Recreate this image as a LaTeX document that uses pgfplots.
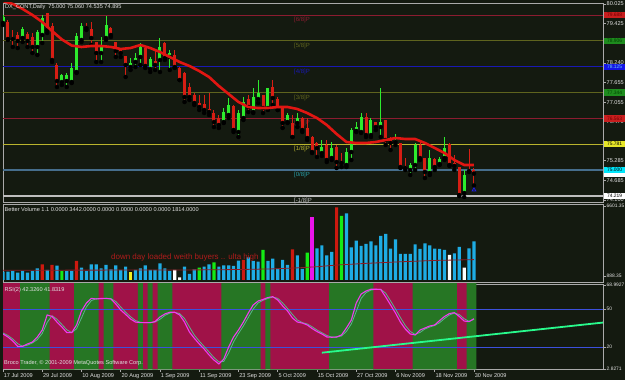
\documentclass[border=0pt]{standalone}
\usepackage{pgfplots}
\usepackage{pgfplotstable}
\pgfplotsset{compat=1.18}
\usepackage{fontspec}
\setmainfont{Liberation Sans}
\definecolor{bg}{RGB}{20,26,16}
\definecolor{frame}{RGB}{170,170,170}
\definecolor{upc}{RGB}{45,235,45}
\definecolor{dnc}{RGB}{215,30,20}
\definecolor{maline}{RGB}{225,22,18}
\definecolor{mmred}{RGB}{140,28,48}
\definecolor{mmolive}{RGB}{95,100,30}
\definecolor{mmblue}{RGB}{25,25,180}
\definecolor{mmyellow}{RGB}{185,180,45}
\definecolor{mmteal}{RGB}{70,110,140}
\definecolor{mmtealtxt}{RGB}{40,160,170}
\definecolor{mmgray}{RGB}{190,190,190}
\definecolor{volcyan}{RGB}{30,172,228}
\definecolor{volred}{RGB}{205,25,15}
\definecolor{volgreen}{RGB}{20,235,20}
\definecolor{volmag}{RGB}{235,20,235}
\definecolor{volyellow}{RGB}{240,240,30}
\definecolor{volma}{RGB}{140,28,38}
\definecolor{rsired}{RGB}{160,18,72}
\definecolor{rsigreen}{RGB}{38,118,36}
\definecolor{rsiline}{RGB}{240,60,240}
\definecolor{rsisig}{RGB}{90,180,140}
\definecolor{rsilvl}{RGB}{60,80,220}
\definecolor{trend}{RGB}{40,250,140}
\definecolor{txtc}{RGB}{225,225,225}
\definecolor{notered}{RGB}{175,28,28}
\definecolor{arrowblue}{RGB}{30,30,230}
\definecolor{boxred}{RGB}{200,30,30}
\definecolor{boxgreen}{RGB}{30,140,30}
\definecolor{boxblue}{RGB}{20,20,230}
\definecolor{boxyellow}{RGB}{230,230,40}
\definecolor{boxcyan}{RGB}{0,230,250}
\newcommand{\tf}{\fontsize{5.6}{6.5}\selectfont}
\newcommand{\smf}{\fontsize{4.9}{6}\selectfont}

\pgfplotstableread{
i O H L C
0 79.446 79.688 79.386 79.627
4 78.993 79.325 78.872 79.265
7 78.721 79.234 78.479 79.174
8 79.083 79.688 78.842 79.597
12 77.663 77.905 77.572 77.875
13 77.693 77.935 77.512 77.875
14 77.663 78.237 77.633 78.086
15 77.965 79.144 77.935 79.053
16 78.932 79.446 78.872 79.355
20 78.539 79.023 78.267 78.781
21 78.993 79.658 78.932 79.386
26 78.116 78.388 78.026 78.237
27 78.267 78.539 78.116 78.388
28 78.419 78.842 78.177 78.721
30 78.056 78.419 77.965 78.358
32 78.328 78.993 77.965 78.721
34 78.419 78.630 78.026 78.539
45 76.454 76.877 76.424 76.756
46 76.666 77.179 76.575 76.968
48 76.152 76.817 76.001 76.726
49 76.575 77.210 76.515 77.059
51 76.756 77.482 76.726 77.210
52 77.149 77.723 77.028 77.331
54 76.877 77.482 76.817 77.482
58 76.454 76.726 76.424 76.666
60 76.424 76.726 76.303 76.575
65 75.517 75.910 75.427 75.699
67 75.366 75.850 75.306 75.668
70 75.155 75.668 75.094 75.548
71 75.548 76.273 75.306 76.212
72 76.182 76.454 76.152 76.303
73 76.152 76.726 76.122 76.605
75 76.061 76.575 76.001 76.515
77 76.303 77.482 76.001 76.454
80 75.850 76.092 75.759 75.910
83 75.004 75.215 74.853 75.155
84 75.155 75.820 75.004 75.759
87 74.913 75.608 74.853 75.366
89 75.185 75.397 75.155 75.336
90 75.366 76.001 75.306 75.668
94 74.309 75.004 74.188 74.853
}\uptab

\pgfplotstableread{
i O H L C
1 79.476 79.537 78.932 78.962
2 79.023 79.234 78.721 78.962
3 79.083 79.174 78.690 78.902
5 79.114 79.174 78.721 78.902
6 79.023 79.144 78.539 78.721
9 79.748 79.748 79.144 79.234
10 79.355 79.446 78.267 78.328
11 78.177 78.237 77.512 77.693
17 79.355 79.446 79.234 79.295
18 79.265 79.476 78.781 78.993
19 78.872 78.872 78.267 78.539
22 79.295 79.325 79.023 79.083
23 78.872 78.872 78.419 78.600
24 78.630 78.690 78.419 78.539
25 78.449 78.449 77.814 78.177
29 78.690 78.721 78.086 78.147
31 78.298 78.630 78.026 78.177
33 78.842 78.872 78.328 78.388
35 78.479 78.630 78.086 78.116
36 78.086 78.116 77.723 77.723
37 77.935 77.965 77.059 77.210
38 77.512 77.633 77.119 77.210
39 77.270 77.331 76.968 77.028
40 77.028 77.270 76.817 76.907
41 76.998 77.270 76.726 76.817
42 76.847 77.331 76.666 76.756
43 76.726 76.817 76.303 76.454
44 76.575 76.666 76.273 76.364
47 76.938 76.968 76.152 76.212
50 77.149 77.270 76.756 76.907
53 77.270 77.270 76.726 76.877
55 77.512 77.723 76.968 77.179
56 77.149 77.210 76.817 76.817
57 76.877 76.907 76.273 76.424
59 76.424 76.666 76.001 76.001
61 76.575 76.605 76.152 76.212
62 76.273 76.575 75.910 75.971
63 76.001 76.031 75.517 75.548
64 75.820 75.850 75.397 75.668
66 75.759 75.910 75.245 75.306
68 75.699 75.759 75.064 75.245
69 75.245 75.517 75.094 75.215
74 76.605 76.726 76.001 76.061
76 76.454 76.454 76.212 76.303
78 76.515 76.515 75.759 75.910
79 75.971 76.001 75.608 75.820
81 75.820 75.820 75.064 75.094
82 75.125 75.366 75.004 75.064
85 75.759 75.850 75.306 75.366
86 75.366 75.366 74.762 74.943
88 75.336 75.366 75.004 75.094
91 75.789 75.820 75.125 75.155
92 75.215 75.457 75.004 75.125
93 75.094 75.094 74.218 74.248
95 75.004 75.638 74.943 74.973
96 75.000 75.060 74.535 74.895
}\dntab

\pgfplotstableread{
i v
0 80.111
2 80.020
4 79.869
6 79.688
8 79.476
10 79.204
12 78.948
14 78.766
16 78.721
18 78.751
20 78.751
22 78.721
24 78.660
26 78.690
28 78.781
30 78.690
32 78.570
34 78.419
36 78.267
38 78.147
40 77.995
42 77.814
44 77.542
46 77.300
48 77.059
50 76.907
52 76.877
54 76.877
56 76.907
58 76.907
60 76.847
62 76.726
64 76.575
66 76.364
68 76.092
70 75.850
72 75.820
74 75.820
76 75.850
78 75.910
80 75.971
82 75.940
84 75.940
86 75.820
88 75.668
90 75.517
92 75.306
94 75.155
96 75.155
}\matab

\pgfplotstableread{
i r s
0 30.3 31.0
1 27.9 29.1
2 24.7 26.3
3 20.4 22.6
4 20.6 20.5
5 22.4 21.5
6 23.9 23.2
7 27.9 25.9
8 33.4 30.7
9 45.3 39.4
10 44.1 44.7
11 39.7 41.9
12 35.8 37.8
13 31.4 33.6
14 31.3 31.4
15 37.4 34.4
16 48.4 42.9
17 54.7 51.6
18 58.4 56.6
19 57.9 58.2
20 58.3 58.1
21 58.4 58.4
22 57.9 58.2
23 53.9 55.9
24 49.2 51.6
25 45.7 47.5
26 42.1 43.9
27 39.7 40.9
28 39.2 39.5
29 39.2 39.2
30 39.2 39.2
31 40.1 39.7
32 43.7 41.9
33 46.1 44.9
34 47.4 46.8
35 47.4 47.4
36 45.3 46.4
37 39.7 42.5
38 31.8 35.8
39 26.9 29.4
40 22.4 24.7
41 18.4 20.4
42 13.7 16.1
43 9.7 11.7
44 6.6 8.2
45 10.5 8.6
46 20.0 15.3
47 27.9 24.0
48 33.4 30.7
49 39.7 36.6
50 46.8 43.3
51 53.2 50.0
52 56.3 54.8
53 57.5 56.9
54 59.1 58.3
55 59.7 59.4
56 57.1 58.4
57 52.4 54.8
58 48.4 50.4
59 42.9 45.7
60 39.7 41.3
61 38.9 39.3
62 37.4 38.2
63 34.6 36.0
64 32.2 33.4
65 30.3 31.3
66 27.9 29.1
67 27.7 27.8
68 27.9 27.8
69 29.5 28.7
70 35.0 32.3
71 41.3 38.2
72 54.7 48.0
73 61.8 58.3
74 64.2 63.0
75 65.6 64.9
76 65.6 65.6
77 65.4 65.5
78 59.5 62.5
79 53.2 56.4
80 46.8 50.0
81 39.7 43.3
82 34.2 37.0
83 30.3 32.3
84 29.5 29.9
85 33.4 31.5
86 35.0 34.2
87 36.6 35.8
88 37.4 37.0
89 40.9 39.2
90 44.1 42.5
91 46.4 45.3
92 47.1 46.8
93 44.1 45.6
94 40.5 42.3
95 40.0 40.3
96 42.326 41.832
}\rsitab

\pgfplotsset{
  panel/.style={
    scale only axis, width=600pt,
    xmin=0, xmax=122.3,
    axis background/.style={fill=bg},
    axis line style={draw=frame, line width=0.7pt},
    xtick=\empty,
    ytick pos=right, yticklabel pos=right,
    tick align=outside, major tick length=2.5pt,
    every tick/.style={draw=frame, line width=0.5pt},
    yticklabel style={font=\tf, text=txtc, inner sep=1pt},
    clip mode=individual,
  },
  wick/.style={only marks, mark=none, forget plot,
    error bars/.cd, y dir=plus, y explicit, error mark=none,
    error bar style={draw=#1, line width=1pt, solid}},
  body/.style={only marks, mark=none, forget plot,
    error bars/.cd, y dir=plus, y explicit, error mark=none,
    error bar style={draw=#1, line width=3pt, solid}},
}
\tikzset{
  mmlbl/.style={anchor=north west, inner sep=0pt, font=\fontsize{6}{7}\selectfont, yshift=-2pt},
  pbox/.style={anchor=west, xshift=1.2pt, inner sep=0.4pt, minimum width=20.5pt, minimum height=6.4pt, font=\smf},
}

\begin{document}
\begin{tikzpicture}[x=1pt,y=1pt]
\fill[bg] (0pt,0pt) rectangle (625pt,380pt);

% ---------------- main price panel ----------------
\begin{axis}[panel, at={(3pt,178pt)}, anchor=south west, height=199pt,
  ymin=74.037, ymax=80.05,
  ytick={80.025,79.425,78.240,77.655,77.055,76.470,75.285,74.685,74.100},
  yticklabels={80.025,79.425,78.240,77.655,77.055,76.470,75.285,74.685,74.100}]
\addplot[mmred, line width=0.8pt] coordinates {(0,79.688) (122.3,79.688)};
\addplot[mmolive, line width=0.8pt] coordinates {(0,78.906) (122.3,78.906)};
\addplot[mmblue, line width=0.8pt] coordinates {(0,78.125) (122.3,78.125)};
\addplot[mmolive, line width=0.8pt] coordinates {(0,77.344) (122.3,77.344)};
\addplot[mmred, line width=0.8pt] coordinates {(0,76.563) (122.3,76.563)};
\addplot[mmyellow, line width=0.8pt] coordinates {(0,75.781) (122.3,75.781)};
\addplot[mmteal, line width=1.6pt] coordinates {(0,75.000) (122.3,75.000)};
\addplot[mmgray, line width=1.3pt] coordinates {(0,74.219) (122.3,74.219)};

\node[mmlbl, text=mmred] at (axis cs:59.3,79.688) {[6/8]P};
\node[mmlbl, text=mmolive] at (axis cs:59.3,78.906) {[5/8]P};
\node[mmlbl, text=mmblue] at (axis cs:59.3,78.125) {[4/8]P};
\node[mmlbl, text=mmolive] at (axis cs:59.3,77.344) {[3/8]P};
\node[mmlbl, text=mmred] at (axis cs:59.3,76.563) {[2/8]P};
\node[mmlbl, text=mmyellow] at (axis cs:59.3,75.781) {[1/8]P};
\node[mmlbl, text=mmtealtxt] at (axis cs:59.3,75.000) {[0/8]P};
\node[mmlbl, text=mmgray] at (axis cs:59.3,74.219) {[-1/8]P};

\addplot[wick=upc] table[x=i, y=L, y error plus expr=\thisrow{H}-\thisrow{L}] {\uptab};
\addplot[wick=dnc] table[x=i, y=L, y error plus expr=\thisrow{H}-\thisrow{L}] {\dntab};
\addplot[body=upc] table[x=i, y=O, y error plus expr=\thisrow{C}-\thisrow{O}] {\uptab};
\addplot[body=dnc] table[x=i, y=C, y error plus expr=\thisrow{O}-\thisrow{C}] {\dntab};

\addplot[maline, line width=2.6pt, line join=round] table[x=i, y=v] {\matab};
\addplot[only marks, mark=triangle, mark size=2.2pt, draw=arrowblue, line width=0.8pt] coordinates {(96,74.40)};

\node[anchor=north west, inner sep=0pt, font=\tf, text=txtc, xshift=2pt, yshift=-1.2pt] at (rel axis cs:0,1) {DX\_CONT,Daily\ \ 75.000 75.060 74.535 74.895};
\end{axis}

% ---------------- volume panel ----------------
\begin{axis}[panel, at={(3pt,98pt)}, anchor=south west, height=78pt,
  ymin=-178, ymax=6764,
  yticklabel style={font=\smf},
  ytick={6601.35,360}, yticklabels={6601.35,888.35}]
\addplot[ybar, bar width=3.2pt, bar shift=0pt, fill=volcyan, draw=none] coordinates {
(0,739) (1,739) (2,801) (3,650) (4,801) (5,650) (6,801) (7,1041) (9,890) (11,1273)
(13,801) (14,801) (16,1095) (17,801) (18,1397) (19,1397) (20,1041) (21,1335) (22,952)
(23,1308) (24,890) (25,1184) (27,890) (28,1041) (29,1308) (30,890) (31,890) (32,1486)
(33,1041) (34,801) (37,1184) (38,534) (39,952) (41,1184) (42,1397) (44,1184) (45,1308)
(46,1308) (47,1246) (48,1718) (50,2020) (51,1691) (52,1629) (54,1691) (55,1896) (56,1006)
(57,1780) (58,1335) (60,2198) (61,979) (64,2821) (65,3088) (66,2198) (67,2492) (70,5936)
(71,2910) (72,3498) (73,3026) (74,3204) (75,3444) (76,3088) (77,3916) (78,4094) (79,2786)
(80,3622) (81,2314) (82,2314) (83,2314) (84,3177) (85,2759) (86,3266) (87,3088) (88,2786)
(89,2759) (90,2670) (92,2376) (93,2937) (95,2821) (96,3442)};
\addplot[ybar, bar width=3.2pt, bar shift=0pt, fill=volred, draw=none] coordinates {
(8,1397) (10,1335) (15,1691) (49,1780) (59,2732) (68,6470)};
\addplot[ybar, bar width=3.2pt, bar shift=0pt, fill=volgreen, draw=none] coordinates {
(12,801) (40,1095) (43,1575) (53,2670) (62,2430) (69,5696)};
\addplot[ybar, bar width=3.2pt, bar shift=0pt, fill=white, draw=none] coordinates {
(35,890) (36,240) (91,2225) (94,1095)};
\addplot[ybar, bar width=3.2pt, bar shift=0pt, fill=volyellow, draw=none] coordinates {(26,739)};
\addplot[ybar, bar width=3.2pt, bar shift=0pt, fill=volmag, draw=none] coordinates {(63,5634)};
\addplot[volma, line width=0.8pt] coordinates {
(0,870) (20,880) (40,900) (48,930) (55,990) (60,1080) (64,1180) (68,1330) (74,1480)
(81,1620) (88,1740) (96,1814)};
\node[anchor=north west, inner sep=0pt, font=\tf, text=txtc, xshift=1.5pt, yshift=-3pt] at (rel axis cs:0,1) {Better Volume 1.1 0.0000 3442.0000 0.0000 0.0000 0.0000 0.0000 1814.0000};
\node[anchor=west, inner sep=0pt, font=\fontsize{8}{9}\selectfont, text=notered] at (axis cs:22,2047) {down day loaded weith buyers .. ulta high};
\end{axis}

% ---------------- RSI panel ----------------
\begin{axis}[panel, at={(3pt,10.5pt)}, anchor=south west, height=85.5pt,
  ymin=2.24, ymax=69.74,
  yticklabel style={font=\smf},
  ytick={68.9927,50,20,2.8271}, yticklabels={68.9927,50,20,2.8271},
  xtick={0,8,16,24,32,40,48,56,64,72,80,88,96},
  xticklabels={17 Jul 2009,29 Jul 2009,10 Aug 2009,20 Aug 2009,1 Sep 2009,11 Sep 2009,23 Sep 2009,5 Oct 2009,15 Oct 2009,27 Oct 2009,6 Nov 2009,18 Nov 2009,30 Nov 2009},
  xtick pos=bottom, xticklabel pos=bottom,
  xticklabel style={font=\tf, text=txtc, anchor=north west, inner sep=0pt, xshift=0.6pt, yshift=-1.5pt}]
\addplot[ybar interval, fill=rsired, draw=none, forget plot] coordinates {(-0.5,100) (96.5,100)};
\addplot[ybar interval, fill=rsigreen, draw=none, forget plot] coordinates {
(3.5,100) (9.5,0) (14.5,100) (19.5,0) (20.5,100) (22.5,0) (27.5,100) (28.5,0)
(29.5,100) (30.5,0) (31.5,100) (34.5,0) (44.5,100) (52.5,0) (53.5,100) (54.5,0)
(66.5,100) (75.5,0) (83.5,100) (92.5,0) (94.5,100) (96.5,0)};
\addplot[rsilvl, line width=0.8pt] coordinates {(0,50) (122.3,50)};
\addplot[rsilvl, line width=0.8pt] coordinates {(0,20) (122.3,20)};
\addplot[rsisig, line width=0.8pt] table[x=i, y=s] {\rsitab};
\addplot[rsiline, line width=1.1pt] table[x=i, y=r] {\rsitab};
\addplot[trend, line width=1.8pt] coordinates {(65,15.5) (122.3,39.3)};
\node[anchor=north west, inner sep=0pt, font=\tf, text=txtc, xshift=1.5pt, yshift=-3.5pt] at (rel axis cs:0,1) {RSI(2) 42.3260 41.8319};
\node[anchor=south west, inner sep=0pt, font=\tf, text=txtc, xshift=1pt, yshift=3.5pt] at (rel axis cs:0,0) {Broco Trader, © 2001-2009 MetaQuotes Software Corp.};
\end{axis}

% ---------------- price boxes overlay ----------------
\begin{axis}[scale only axis, width=600pt, height=199pt, at={(3pt,178pt)}, anchor=south west,
  xmin=0, xmax=122.3, ymin=74.037, ymax=80.05, hide axis, clip=false]
\node[pbox, fill=boxred, text=red!45!black] at (axis cs:122.3,79.688) {79.688};
\node[pbox, fill=boxgreen, text=green!25!black] at (axis cs:122.3,78.906) {78.906};
\node[pbox, fill=boxblue, text=cyan!60!white] at (axis cs:122.3,78.125) {78.125};
\node[pbox, fill=boxgreen, text=green!25!black] at (axis cs:122.3,77.344) {77.344};
\node[pbox, fill=boxred, text=red!45!black] at (axis cs:122.3,76.563) {76.563};
\node[pbox, fill=boxyellow, text=black] at (axis cs:122.3,75.781) {75.781};
\node[pbox, fill=white, text=black, minimum height=4pt, anchor=north west, yshift=-2.6pt] at (axis cs:122.3,75.000) {};
\node[pbox, fill=boxcyan, text=black] at (axis cs:122.3,75.000) {75.000};
\node[pbox, fill=white, text=black] at (axis cs:122.3,74.219) {74.219};
\end{axis}

\pgfresetboundingbox
\path[use as bounding box] (0pt,0pt) rectangle (625pt,380pt);
\end{tikzpicture}
\end{document}
